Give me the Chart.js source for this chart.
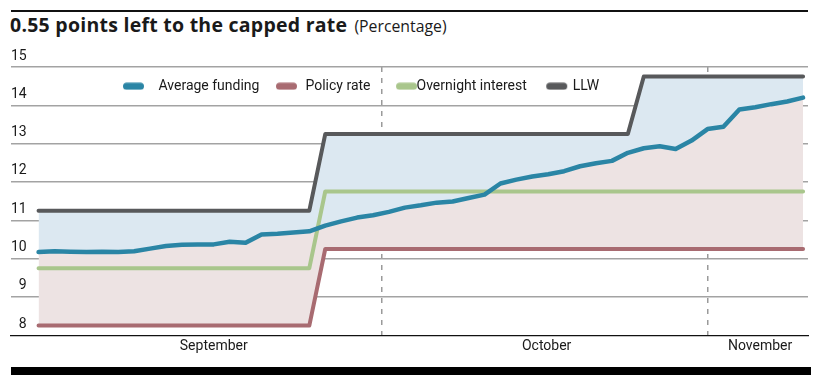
<!DOCTYPE html>
<html><head><meta charset="utf-8">
<script src="https://cdn.jsdelivr.net/npm/chart.js@4"></script>
<style>
html,body{margin:0;padding:0;background:#fff;}
#wrap{position:relative;width:823px;height:386px;overflow:hidden;font-family:Roboto,"Open Sans",sans-serif;color:#1a1a1a;background:#fff;}
#topRule{position:absolute;left:11px;top:10px;width:797px;height:2px;background:#111;}
#title{position:absolute;left:10px;top:13px;white-space:nowrap;line-height:24px;font-family:"Open Sans",Roboto,sans-serif;}
#title b{font-size:19.5px;font-weight:700;letter-spacing:0.25px;}
#title span{font-size:15.8px;font-weight:400;margin-left:3px;}
#c{position:absolute;left:0;top:0;}
#bottomBar{position:absolute;left:11px;top:367px;width:800px;height:8px;background:#000;}
</style></head>
<body><div id="wrap">
<div id="topRule"></div>
<div id="title"><b>0.55 points left to the capped rate</b> <span>(Percentage)</span></div>
<canvas id="c" width="823" height="386"></canvas>
<div id="bottomBar"></div>
</div>
<script>
// Business days, Sep 1 - Nov 6 (2020)
const dates = ['09-01','09-02','09-03','09-04','09-07','09-08','09-09','09-10','09-11','09-14','09-15','09-16','09-17','09-18','09-21','09-22','09-23','09-24','09-25','09-28','09-29','09-30',
  '10-01','10-02','10-05','10-06','10-07','10-08','10-09','10-12','10-13','10-14','10-15','10-16','10-19','10-20','10-21','10-22','10-23','10-26','10-27','10-28','10-29','10-30',
  '11-02','11-03','11-04','11-05','11-06'];
const avgFunding = [10.17,10.19,10.18,10.17,10.18,10.17,10.19,10.26,10.33,10.36,10.37,10.37,10.44,10.41,10.63,10.65,10.68,10.71,10.86,10.97,11.07,11.13,
  11.22,11.33,11.39,11.46,11.49,11.58,11.67,11.96,12.06,12.14,12.20,12.28,12.41,12.49,12.55,12.76,12.88,12.93,12.86,13.08,13.38,13.44,
  13.89,13.95,14.03,14.10,14.20];
const policyRate = [8.25,8.25,8.25,8.25,8.25,8.25,8.25,8.25,8.25,8.25,8.25,8.25,8.25,8.25,8.25,8.25,8.25,8.25,10.25,10.25,10.25,10.25,
  10.25,10.25,10.25,10.25,10.25,10.25,10.25,10.25,10.25,10.25,10.25,10.25,10.25,10.25,10.25,10.25,10.25,10.25,10.25,10.25,10.25,10.25,
  10.25,10.25,10.25,10.25,10.25];
const overnight = [9.75,9.75,9.75,9.75,9.75,9.75,9.75,9.75,9.75,9.75,9.75,9.75,9.75,9.75,9.75,9.75,9.75,9.75,11.75,11.75,11.75,11.75,
  11.75,11.75,11.75,11.75,11.75,11.75,11.75,11.75,11.75,11.75,11.75,11.75,11.75,11.75,11.75,11.75,11.75,11.75,11.75,11.75,11.75,11.75,
  11.75,11.75,11.75,11.75,11.75];
const llw = [11.25,11.25,11.25,11.25,11.25,11.25,11.25,11.25,11.25,11.25,11.25,11.25,11.25,11.25,11.25,11.25,11.25,11.25,13.25,13.25,13.25,13.25,
  13.25,13.25,13.25,13.25,13.25,13.25,13.25,13.25,13.25,13.25,13.25,13.25,13.25,13.25,13.25,13.25,14.75,14.75,14.75,14.75,14.75,14.75,
  14.75,14.75,14.75,14.75,14.75];
const seriesNames = ['Average funding','Policy rate','Overnight interest','LLW'];
const monthLabels = ['September','October','November'];
const monthLabelPos = [11.0, 31.9, 45.3];   // position on the day index axis
const monthDividers = [21.55, 42.0];

const colors = ['#2a85a5','#a86b71','#a9c68c','#58595b'];
const fillBlue = '#dce8f1', fillPink = '#ede3e3';
const pillOffsets = [-1.5, 4.5, 13.5, 7.5];   // legend swatch offset inside each item

const toXY = arr => arr.map((v, i) => ({x: i, y: v}));

function pill(color, off){
  const c = document.createElement('canvas');
  c.width = 42; c.height = 8;
  const g = c.getContext('2d');
  g.fillStyle = color;
  const r = 3.5, x0 = off + 7.5, y0 = 0.5, w = 21, h = 7;
  g.beginPath();
  g.moveTo(x0 + r, y0);
  g.lineTo(x0 + w - r, y0);
  g.arc(x0 + w - r, y0 + r, r, -Math.PI/2, Math.PI/2);
  g.lineTo(x0 + r, y0 + h);
  g.arc(x0 + r, y0 + r, r, Math.PI/2, Math.PI*1.5);
  g.closePath();
  g.fill();
  return c;
}
const pills = colors.map((c, i) => pill(c, pillOffsets[i]));

const legendInside = {
  id: 'legendInside',
  afterLayout(chart){
    const lg = chart.legend; if (!lg) return;
    const ca = chart.chartArea;
    const top = ca.top + 0.2, left = ca.left + 101.5;
    const h = lg.height, w = lg.width;
    lg.top = top; lg.bottom = top + h; lg.left = left; lg.right = left + w;
  }
};

Chart.defaults.font.family = 'Roboto, "Open Sans", sans-serif';
Chart.defaults.font.size = 14;
Chart.defaults.color = '#1a1a1a';

const X_MIN = -1.73, X_MAX = 48.31;

new Chart(document.getElementById('c'), {
  type: 'line',
  data: {
    labels: dates,
    datasets: [
      {label: seriesNames[0], data: toXY(avgFunding), borderColor: colors[0], borderWidth: 4.5, fill: {target: 1}, backgroundColor: fillPink},
      {label: seriesNames[1], data: toXY(policyRate), borderColor: colors[1], borderWidth: 4, fill: false},
      {label: seriesNames[2], data: toXY(overnight), borderColor: colors[2], borderWidth: 4, fill: false},
      {label: seriesNames[3], data: toXY(llw), borderColor: colors[3], borderWidth: 4, fill: {target: 0}, backgroundColor: fillBlue}
    ]
  },
  options: {
    responsive: false,
    animation: false,
    devicePixelRatio: 1,
    elements: {
      point: {radius: 0, hoverRadius: 0},
      line: {tension: 0, borderCapStyle: 'round', borderJoinStyle: 'round'}
    },
    layout: {padding: {left: 11, right: 15, top: 31, bottom: 28}},
    scales: {
      x: {
        type: 'linear', min: X_MIN, max: X_MAX,
        afterBuildTicks: s => { s.ticks = monthLabelPos.map(v => ({value: v})); },
        ticks: {callback: (v, i) => monthLabels[i], autoSkip: false, maxRotation: 0, padding: 3, color: '#1a1a1a', font: {size: 14}},
        grid: {display: false, drawTicks: false},
        border: {display: true, color: '#111', width: 1.2}
      },
      xd: {
        type: 'linear', position: 'top', min: X_MIN, max: X_MAX,
        afterBuildTicks: s => { s.ticks = monthDividers.map(v => ({value: v})); },
        ticks: {display: false},
        grid: {color: '#9a9a9a', lineWidth: 1.5, drawTicks: false},
        border: {display: false, dash: [5, 6]}
      },
      y: {
        min: 8, max: 15,
        ticks: {stepSize: 1, mirror: true, crossAlign: 'far', padding: 0, labelOffset: -11, color: '#1a1a1a', font: {size: 14}},
        grid: {color: c => (c.tick && c.tick.value === 8) ? 'rgba(0,0,0,0)' : '#a3a3a3', lineWidth: 1.5, drawTicks: false},
        border: {display: false}
      }
    },
    plugins: {
      filler: {drawTime: 'beforeDatasetsDraw'},
      tooltip: {enabled: false},
      title: {display: false},
      legend: {
        position: 'top', align: 'start',
        labels: {
          usePointStyle: true, pointStyleWidth: 27, boxHeight: 7, padding: 12,
          color: '#1a1a1a', font: {size: 14},
          generateLabels: chart => chart.data.datasets.map((ds, i) => ({
            text: ds.label, pointStyle: pills[i], fillStyle: ds.borderColor, strokeStyle: ds.borderColor,
            lineWidth: 0, hidden: false, datasetIndex: i, fontColor: '#1a1a1a', rotation: 0
          }))
        }
      }
    }
  },
  plugins: [legendInside]
});
</script>
</body></html>
